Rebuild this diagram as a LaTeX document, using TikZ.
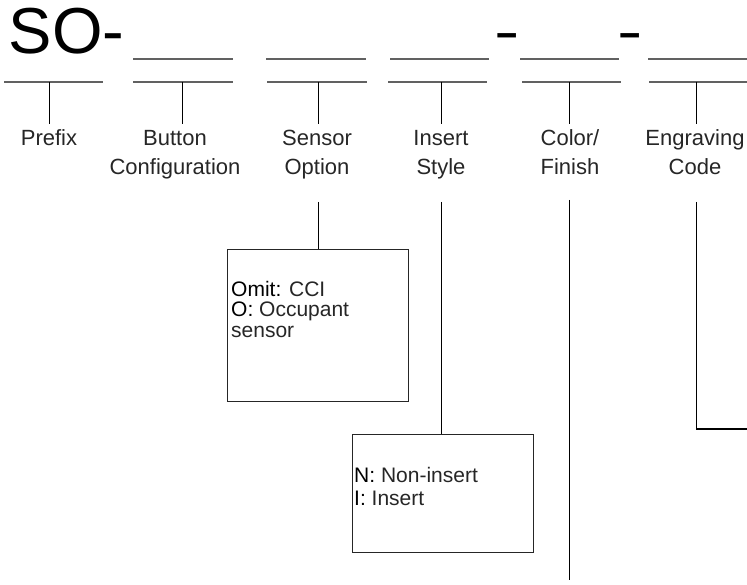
\documentclass[tikz,border=0pt]{standalone}
\usepackage{fontspec}
\setmainfont{Liberation Sans}
\begin{document}
\begin{tikzpicture}[x=1pt,y=-1pt,
  hline/.style={draw=black!62, line width=1.5pt},
  stem/.style={draw=black, line width=1pt},
  lbl/.style={font=\fontsize{22}{28.5}\selectfont, text=black!85, align=center, inner sep=0pt, anchor=base},
  boxnode/.style={draw=black!85, line width=1.2pt, inner sep=0pt, anchor=north west},
  boxtext/.style={font=\fontsize{21}{#1}\selectfont, text=black!85, align=left, inner sep=0pt, anchor=base west}]
\useasboundingbox (0,0) rectangle (747,585);

% code line
\node[inner sep=0pt, anchor=base west, font=\fontsize{65}{65}\selectfont] (so) at (8.7,54) {SO-};
\node[inner sep=0pt, anchor=base west, font=\fontsize{76}{76}\selectfont, yscale=0.73] (d1) at (494.6,50.7) {-};
\node[inner sep=0pt, anchor=base west, font=\fontsize{76}{76}\selectfont, yscale=0.73] (d2) at (617.6,50.7) {-};

% upper blanks
\foreach \a/\b in {133/233, 266/366, 390/489, 520/619, 648/747}
  \draw[hline] (\a,59) -- (\b,59);

% lower lines with stems
\foreach \n/\x/\a/\b in {pre/49/4/103, btn/182/133/233, sen/318/267/367, ins/441/388/487, col/569/522/621, eng/696/649/747} {
  \draw[hline] (\a,82) -- (\b,82);
  \coordinate (\n-s) at (\x,82);
  \coordinate (\n-e) at (\x,124);
  \draw[stem] (\n-s) -- (\n-e);
}

% labels (anchor base = baseline of last line)
\node[lbl] (pre-l) at (49,146) {Prefix};
\node[lbl] (btn-l) at (175,174.5) {Button\\Configuration};
\node[lbl] (sen-l) at (317,174.5) {Sensor\\Option};
\node[lbl] (ins-l) at (441,174.5) {Insert\\Style};
\node[lbl] (col-l) at (570,174.5) {Color/\\Finish};
\node[lbl] (eng-l) at (695,174.5) {Engraving\\Code};

% option boxes
\node[boxnode, minimum width=181pt, minimum height=152pt] (senbox) at (227,249) {};
\node[boxtext=20.5] (sentext) at (231,337.5) {{\color{black}Omit:} CCI\\{\color{black}O:} Occupant\\sensor};
\node[boxnode, minimum width=181pt, minimum height=118pt] (insbox) at (352,434) {};
\node[boxtext=22.5] (instext) at (354,505) {{\color{black}N:} Non-insert\\{\color{black}I:} Insert};

% lower connectors
\coordinate (sen-d) at (318,202);
\coordinate (ins-d) at (441,202);
\coordinate (col-d) at (569,200);
\coordinate (col-f) at (569,580);
\coordinate (eng-d) at (696,202);
\coordinate (eng-c) at (696,429);
\coordinate (eng-f) at (747,429);
\draw[stem] (sen-d) -- (sen-d |- senbox.north);
\draw[stem] (ins-d) -- (ins-d |- insbox.north);
\draw[stem] (col-d) -- (col-f);
\draw[stem] (eng-d) -- (eng-c);
\draw[stem, line width=2pt] (eng-c) -- (eng-f);
\end{tikzpicture}
\end{document}
